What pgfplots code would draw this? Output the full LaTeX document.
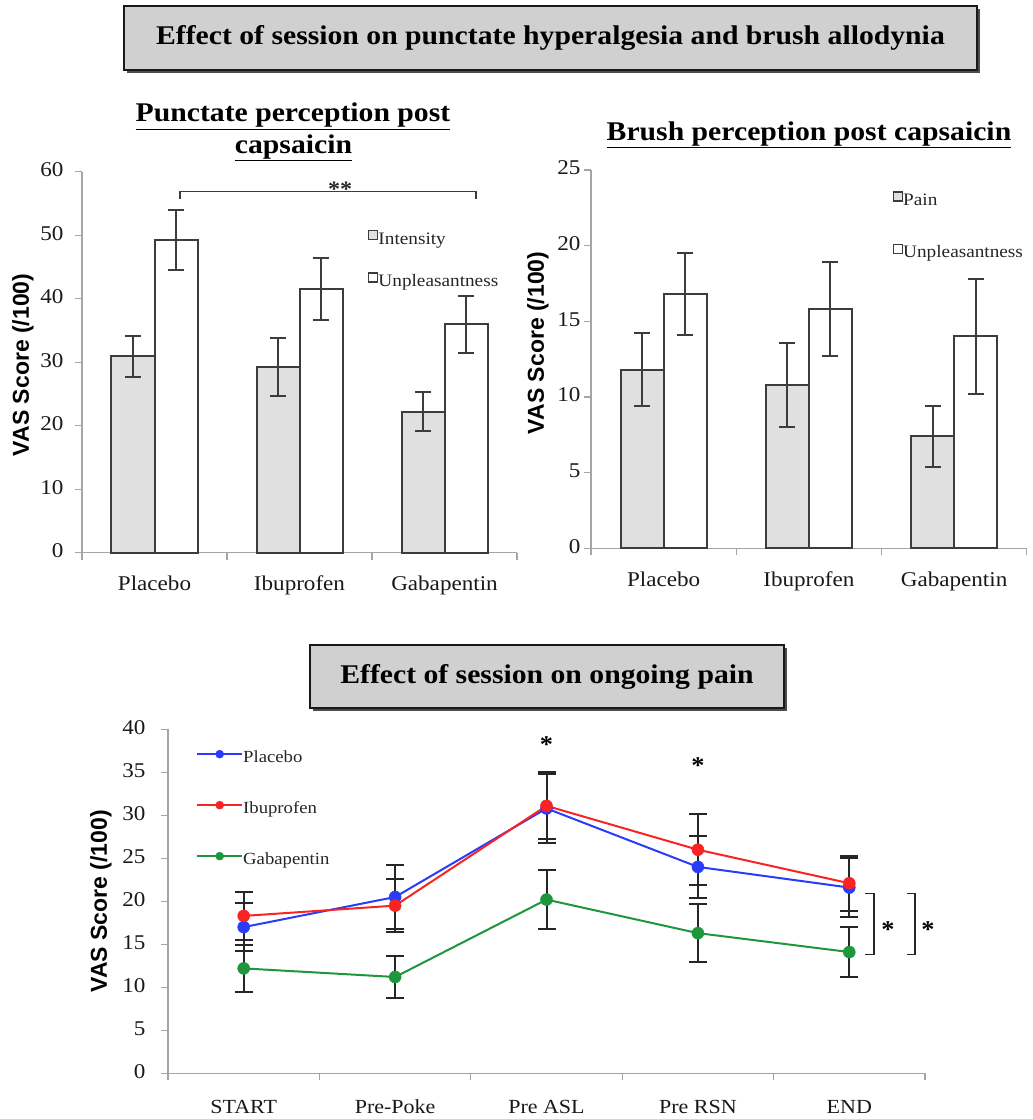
\documentclass[border=0pt]{standalone}
\usepackage{fontspec}
\setmainfont{Liberation Serif}[FakeStretch=1.1]
\setsansfont{Liberation Sans}
\usepackage{pgfplots}
\pgfplotsset{compat=1.18}
\usepackage{pgfplotstable}

\definecolor{barGray}{RGB}{224,224,224}
\definecolor{barEdge}{RGB}{60,60,60}
\definecolor{axisGray}{RGB}{165,165,165}
\definecolor{boxGray}{RGB}{208,208,208}
\definecolor{cBlue}{RGB}{40,60,250}
\definecolor{cRed}{RGB}{250,35,35}
\definecolor{cGreen}{RGB}{30,150,60}

\pgfplotstableread{
x y e
0 30.9 3.3
1 29.2 4.6
2 22.2 3.1
}\punctInt
\pgfplotstableread{
x y e
0 49.2 4.7
1 41.5 4.9
2 36.0 4.5
}\punctUnp
\pgfplotstableread{
x y e
0 11.8 2.4
1 10.8 2.8
2 7.4 2.0
}\brushPain
\pgfplotstableread{
x y e
0 16.8 2.7
1 15.8 3.1
2 14.0 3.8
}\brushUnp
\pgfplotstableread{
x y e
0 17.0 2.8
1 20.5 3.7
2 30.8 4.0
3 24.0 3.6
4 21.6 3.4
}\ongPla
\pgfplotstableread{
x y e
0 18.3 2.75
1 19.5 3.1
2 31.1 3.9
3 26.0 4.1
4 22.1 3.2
}\ongIbu
\pgfplotstableread{
x y e
0 12.2 2.7
1 11.2 2.4
2 20.2 3.4
3 16.3 3.4
4 14.1 2.9
}\ongGab

\pgfplotsset{
  chartbase/.style={
    scale only axis,
    anchor=south west,
    axis x line*=bottom, axis y line*=left,
    axis line style={draw=axisGray, line width=1.3pt, -},
    tick align=outside,
    major tick length=7pt,
    minor tick length=7pt,
    xtick style={draw=none},
    ytick style={draw=axisGray, line width=1.3pt},
    minor x tick style={draw=axisGray, line width=1.3pt},
    /pgf/number format/assume math mode=true,
    typeset ticklabels with strut,
    yticklabel style={font=\fontsize{21}{24}\selectfont, text=black!90},
    xticklabel style={font=\fontsize{21}{25}\selectfont, text=black!90},
    ylabel style={font=\sffamily\bfseries\fontsize{23}{27}\selectfont, anchor=center},
    clip=false,
    legend cell align=left,
  },
  barerr/.style={error bars/.cd, y dir=both, y explicit,
    error bar style={draw=barEdge, line width=2pt},
    error mark options={rotate=90, mark size=8pt, draw=barEdge, line width=2pt}},
  lineerr/.style={error bars/.cd, y dir=both, y explicit,
    error bar style={draw=black!85, line width=2pt},
    error mark options={rotate=90, mark size=9pt, draw=black!85, line width=2pt}},
  sqlegend/.style={legend image code/.code={\draw[fill=#1, draw=barEdge, line width=1.5pt] (0pt,0.5pt) rectangle (9pt,9.5pt);}},
  lnlegend/.style={legend image code/.code={%
      \draw[##1, mark=none] (0pt,4pt) -- (45pt,4pt);
      \draw[##1, mark size=4pt] plot coordinates {(22.5pt,4pt)};}},
}

\begin{document}
\begin{tikzpicture}[x=1pt,y=1pt]
\useasboundingbox (0,0) rectangle (1033,-1119);

% ---- top title box
\fill[black!70] (126.5,-8.5) rectangle (979.5,-72.5);
\draw[fill=boxGray, draw=black!90, line width=2pt] (124,-6) rectangle (977,-70);
\node[font=\bfseries\fontsize{27}{30}\selectfont] at (550.5,-38) {Effect of session on punctate hyperalgesia and brush allodynia};

% ---- panel titles
\node[font=\bfseries\fontsize{27}{30}\selectfont, anchor=base] at (293,-121.7) {\underline{Punctate perception post}};
\node[font=\bfseries\fontsize{27}{30}\selectfont, anchor=base] at (293.5,-153) {\underline{capsaicin}};
\node[font=\bfseries\fontsize{27}{30}\selectfont, anchor=base] at (809,-140) {\underline{Brush perception post capsaicin}};

% ---- left: punctate
\begin{axis}[chartbase, at={(82pt,-552.7pt)}, width=435pt, height=381pt,
  xmin=-0.5, xmax=2.5, ymin=0, ymax=60, ytick={0,10,...,60},
  xtick={0,1,2}, xticklabels={Placebo,Ibuprofen,Gabapentin},
  minor xtick={-0.5,0.5,1.5,2.5},
  xticklabel style={yshift=-10pt},
  yticklabel style={xshift=-8pt},
  ybar=0pt, bar width=43pt,
  ylabel={VAS Score (/100)},
  ylabel style={at={(axis description cs:-0.136,0.493)}},
  legend style={at={(axis description cs:0.657,0.848)}, anchor=north west,
    draw=none, fill=none, font=\fontsize{17.5}{20}\selectfont, text=black!85,
    row sep=24pt, inner sep=0pt,
    nodes={inner sep=0pt, text height=12pt, text depth=4pt},
    /tikz/every even column/.append style={column sep=2pt}},
]
\addplot[fill=barGray, draw=barEdge, line width=2pt, sqlegend=barGray, barerr]
  table[x=x, y=y, y error=e]{\punctInt};
\addlegendentry{Intensity}
\addplot[fill=white, draw=barEdge, line width=2pt, sqlegend=white, barerr]
  table[x=x, y=y, y error=e]{\punctUnp};
\addlegendentry{Unpleasantness}
\draw[barEdge, line width=1.3pt] (axis cs:0.176,55.7) -- (axis cs:0.176,56.9) -- (axis cs:2.217,56.9) -- (axis cs:2.217,55.7);
\node[font=\bfseries\fontsize{22}{22}\selectfont, text=black!85] at (axis cs:1.28,57.3) {**};
\end{axis}

% ---- right: brush
\begin{axis}[chartbase, at={(591pt,-548.3pt)}, width=435.7pt, height=378.3pt,
  xmin=-0.5, xmax=2.5, ymin=0, ymax=25, ytick={0,5,...,25},
  xtick={0,1,2}, xticklabels={Placebo,Ibuprofen,Gabapentin},
  minor xtick={-0.5,0.5,1.5,2.5},
  xticklabel style={yshift=-10pt},
  ybar=0pt, bar width=43pt,
  ylabel={VAS Score (/100)},
  ylabel style={at={(axis description cs:-0.1216,0.543)}},
  legend style={at={(axis description cs:0.692,0.944)}, anchor=north west,
    draw=none, fill=none, font=\fontsize{17.5}{20}\selectfont, text=black!85,
    row sep=34pt, inner sep=0pt,
    nodes={inner sep=0pt, text height=12pt, text depth=4pt},
    /tikz/every even column/.append style={column sep=2pt}},
]
\addplot[fill=barGray, draw=barEdge, line width=2pt, sqlegend=barGray, barerr]
  table[x=x, y=y, y error=e]{\brushPain};
\addlegendentry{Pain}
\addplot[fill=white, draw=barEdge, line width=2pt, sqlegend=white, barerr]
  table[x=x, y=y, y error=e]{\brushUnp};
\addlegendentry{Unpleasantness}
\end{axis}

% ---- bottom title box
\fill[black!70] (312.5,-647.5) rectangle (786.5,-710.5);
\draw[fill=boxGray, draw=black!90, line width=2pt] (310,-645) rectangle (784,-708);
\node[font=\bfseries\fontsize{27}{30}\selectfont] at (547,-676.5) {Effect of session on ongoing pain};

% ---- bottom: ongoing pain
\begin{axis}[chartbase, at={(168pt,-1073.3pt)}, width=757pt, height=344pt,
  xmin=-0.5, xmax=4.5, ymin=0, ymax=40, ytick={0,5,...,40},
  xtick={0,...,4}, xticklabels={START,Pre-Poke,Pre ASL,Pre RSN,END},
  minor xtick={-0.5,0.5,1.5,2.5,3.5,4.5},
  ylabel={VAS Score (/100)},
  ylabel style={at={(axis description cs:-0.0885,0.5)}},
  xticklabel style={font=\fontsize{20}{24}\selectfont, yshift=-13pt},
  yticklabel style={xshift=-12pt},
  legend style={at={(axis description cs:0.037,0.94)}, anchor=north west,
    draw=none, fill=none, font=\fontsize{17}{20}\selectfont, text=black!85,
    row sep=35pt, inner sep=0pt,
    nodes={inner sep=0pt, text height=12pt, text depth=4pt},
    /tikz/every even column/.append style={column sep=3pt}},
]
\addplot[cBlue, line width=2pt, mark=*, mark size=6pt, mark options={fill=cBlue, draw=cBlue, line width=0.5pt}, lnlegend, lineerr]
  table[x=x, y=y, y error=e]{\ongPla};
\addlegendentry{Placebo}
\addplot[cRed, line width=2pt, mark=*, mark size=6pt, mark options={fill=cRed, draw=cRed, line width=0.5pt}, lnlegend, lineerr]
  table[x=x, y=y, y error=e]{\ongIbu};
\addlegendentry{Ibuprofen}
\addplot[cGreen, line width=2pt, mark=*, mark size=6pt, mark options={fill=cGreen, draw=cGreen, line width=0.5pt}, lnlegend, lineerr]
  table[x=x, y=y, y error=e]{\ongGab};
\addlegendentry{Gabapentin}
\node[font=\bfseries\fontsize{24}{24}\selectfont] at (axis cs:2,38.2) {*};
\node[font=\bfseries\fontsize{24}{24}\selectfont] at (axis cs:3,35.8) {*};
\draw[black!85, line width=1.5pt] (axis cs:4.104,20.9) -- (axis cs:4.163,20.9) -- (axis cs:4.163,13.8) -- (axis cs:4.104,13.8);
\draw[black!85, line width=1.5pt] (axis cs:4.381,20.9) -- (axis cs:4.434,20.9) -- (axis cs:4.434,13.8) -- (axis cs:4.381,13.8);
\node[font=\bfseries\fontsize{24}{24}\selectfont] at (axis cs:4.256,16.7) {*};
\node[font=\bfseries\fontsize{24}{24}\selectfont] at (axis cs:4.52,16.7) {*};
\end{axis}
\end{tikzpicture}
\end{document}
